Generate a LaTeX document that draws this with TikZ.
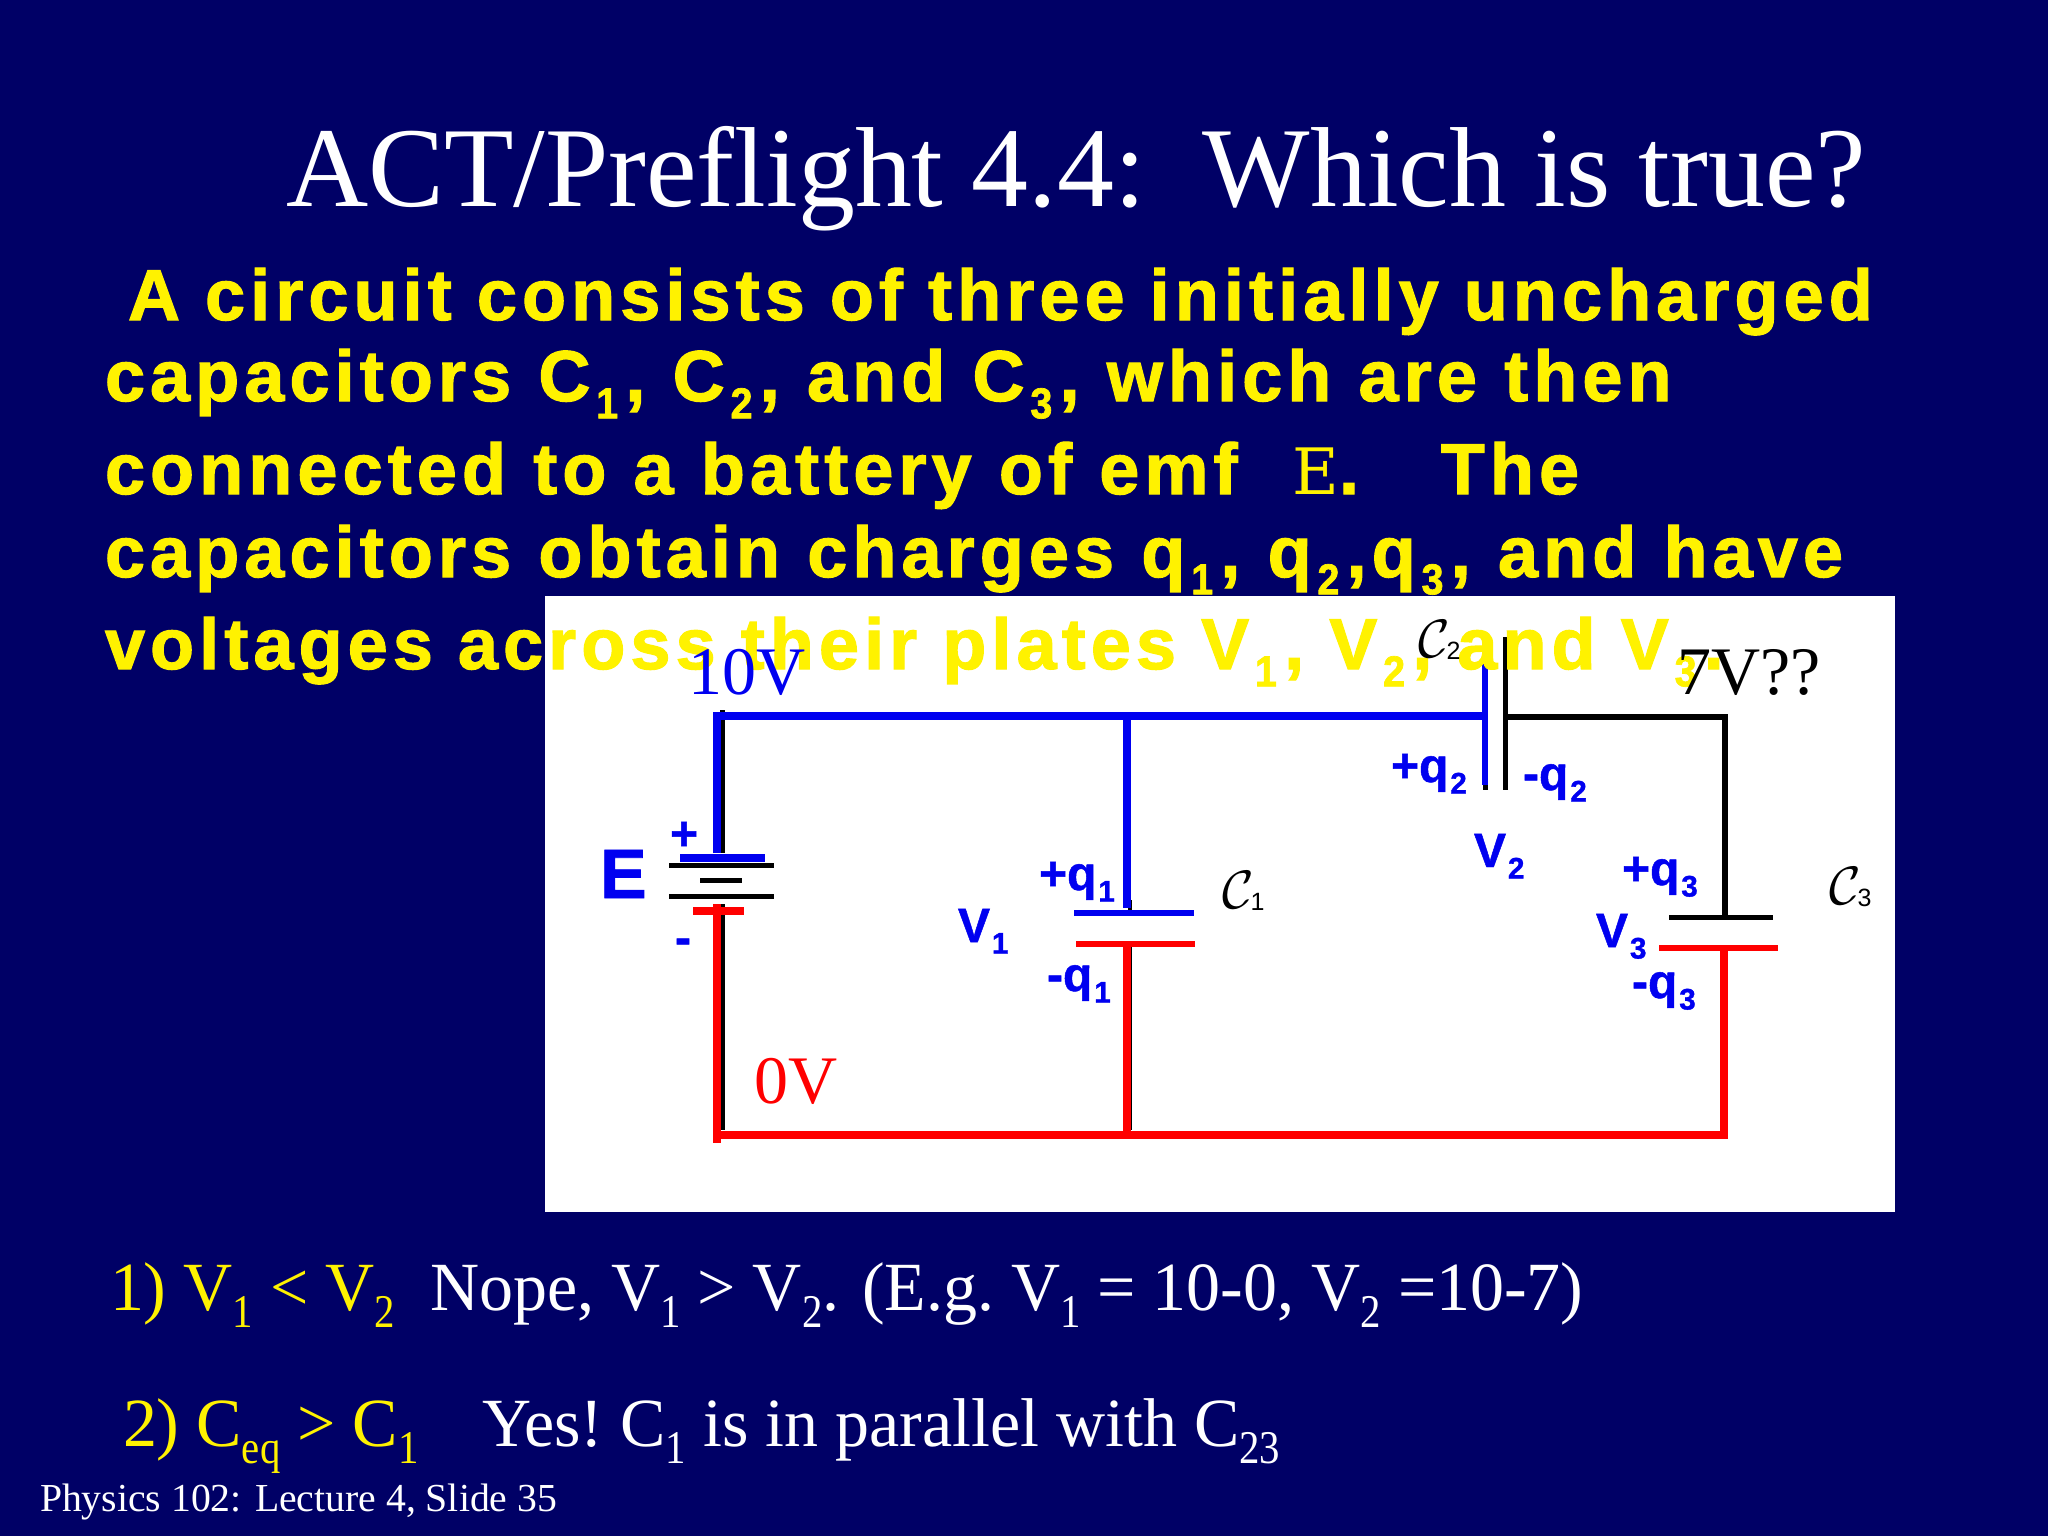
\documentclass[tikz,border=0pt]{standalone}
\usepackage{fontspec}
\usepackage{graphicx}
\setmainfont{Liberation Serif}
\newfontfamily\armfont[LetterSpace=7.1,BoldFeatures={FakeBold=1.6}]{Liberation Sans}
\newfontfamily\lblfont[BoldFeatures={FakeBold=1}]{Liberation Sans}
\newfontfamily\ansfont[FakeStretch=0.985]{Liberation Serif}
\newfontfamily\slabfont{DejaVu Serif}
\definecolor{slidebg}{HTML}{000066}
\definecolor{wireblue}{HTML}{0000F0}
\newcommand{\widesp}{\spaceskip=27.3pt\relax}
\newcommand{\dn}[1]{\kern0.04em\raisebox{-0.24em}{\scalebox{0.62}{#1}}}
\newcommand{\pdn}[1]{\kern0.08em\raisebox{-0.24em}{\scalebox{0.55}[0.6]{#1}}\kern0.1em}
\newcommand{\sdn}[1]{\raisebox{-0.25em}{\scalebox{0.6}[0.68]{#1}}}
\newcommand{\capname}[1]{\scalebox{5.4}{$\mathcal{C}$}\kern-3pt\raisebox{-0.2em}{\lblfont\fontsize{25}{25}\selectfont#1}}
\tikzset{
  every node/.style={inner sep=0pt,outer sep=0pt,anchor=base west},
  title/.style={text=white,font=\fontsize{113.8}{114}\selectfont},
  para/.style={text=yellow,font=\armfont\bfseries\fontsize{72}{72}\selectfont},
  parawide/.style={text=yellow,font=\armfont\bfseries\fontsize{72}{72}\selectfont\widesp},
  answer/.style={font=\ansfont\fontsize{69}{69}\selectfont},
  volt/.style={font=\fontsize{68}{68}\selectfont},
  lbl/.style={text=wireblue,font=\lblfont\bfseries\fontsize{48}{48}\selectfont},
  bluewire/.style={draw=wireblue,line width=8pt},
  redwire/.style={draw=red,line width=8pt},
  blackwire/.style={draw=black,line width=6pt},
  plate/.style={line width=6pt},
  thinplate/.style={draw=black,line width=5pt}
}
\begin{document}
\begin{tikzpicture}[x=1pt,y=-1pt]
\useasboundingbox (0,0) rectangle (2048,1536);
\fill[slidebg] (0,0) rectangle (2048,1536);
\fill[white] (545,596) rectangle (1895,1212);

% corners of the circuit
\coordinate (topleft) at (717,716);
\coordinate (topmid) at (1127,716);
\coordinate (topcap) at (1485,716);
\coordinate (topcapb) at (1505,717);
\coordinate (topright) at (1725,717);
\coordinate (botleft) at (717,1135);
\coordinate (botmid) at (1127,1135);
\coordinate (botright) at (1724,1135);
\coordinate (batplus) at (717,853);
\coordinate (batminus) at (717,904);
\coordinate (capatop) at (1127,908);
\coordinate (capabot) at (1127,944);
\coordinate (capctop) at (1725,917);
\coordinate (capcbot) at (1724,948);

% black lines under the coloured ones
\draw[draw=black,line width=5pt] (722,710) -- (722,853);
\draw[draw=black,line width=5pt] (722,904) -- (722,1130);
\draw[draw=black,line width=4pt] (1130,900) -- (1130,913);
\draw[draw=black,line width=4pt] (1130,944) -- (1130,1130);

% battery
\draw[thinplate] (669,865) -- (774,865);
\draw[thinplate] (700,880) -- (742,880);
\draw[thinplate] (669,896) -- (774,896);
\draw[draw=wireblue,line width=8pt] (680,858) -- (765,858);
\draw[draw=red,line width=8pt] (693,911) -- (744,911);

% wires
\draw[bluewire] (batplus) -- (topleft) -- (topmid) -- (topcap);
\draw[bluewire] (topmid) -- (capatop);
\draw[redwire] (batminus) -- (717,1143);
\draw[redwire] (botleft) -- (botmid) -- (botright) -- (capcbot);
\draw[redwire] (capabot) -- (botmid);
\draw[blackwire] (topcapb) -- (topright) -- (capctop);

% capacitors
\draw[plate,draw=wireblue] (1074,913) -- (1194,913);
\draw[plate,draw=red] (1076,944) -- (1195,944);
\draw[thinplate] (1485,770) -- (1485,790);
\draw[plate,draw=wireblue] (1485,639) -- (1485,785);
\draw[thinplate] (1505,637) -- (1505,790);
\draw[thinplate] (1669,917) -- (1773,917);
\draw[plate,draw=red] (1659,948) -- (1778,948);

% slide text
\node[title] (head) at (286,206) {ACT/Preflight 4.4:\ \ Which is true?};
\node[para] (linea) at (128,320) {A circuit consists of three initially uncharged};
\node[parawide] (lineb) at (105,401) {capacitors C\pdn{1}, C\pdn{2}, and C\pdn{3}, which are then};
\node[parawide] (linec) at (105,494) {connected to a battery of emf\ \ {\slabfont\mdseries\fontsize{64}{64}\selectfont E}.\ \ \ The};
\node[parawide] (lined) at (105,577) {capacitors obtain charges q\pdn{1}, q\pdn{2},q\pdn{3}, and have};
\node[para] (linee) at (105,669) {voltages across their plates V\pdn{1}, V\pdn{2}, and V\pdn{3}.};
\node[answer,text=yellow] (ansa) at (110,1310) {1) V\sdn{1} < V\sdn{2}};
\node[answer,text=white] (ansb) at (430,1310) {Nope, V\sdn{1} > V\sdn{2}. (E.g.\ V\sdn{1} = 10-0, V\sdn{2} =10-7)};
\node[answer,text=yellow] (ansc) at (123,1446) {2) C\sdn{eq} > C\sdn{1}};
\node[answer,text=white] (ansd) at (482,1446) {Yes!\ C\sdn{1} is in parallel with C\sdn{23}};
\node[text=white,font=\fontsize{39.7}{40}\selectfont] (foot) at (40,1511) {Physics 102: Lecture 4, Slide 35};

% labels in the circuit
\node[volt,text=wireblue] (tenv) at (688,694) {10V};
\node[volt,text=red] (zerov) at (754,1103) {0V};
\node[volt,text=black] (sevenv) at (1677,694) {7V??};
\node[lbl,font=\lblfont\bfseries\fontsize{70}{70}\selectfont] (emf) at (600,898) {E};
\node[lbl] (plus) at (670,850) {+};
\node[lbl] (minus) at (675,954) {-};
\node[lbl] (qa) at (1039,890) {+q\dn{1}};
\node[lbl] (qma) at (1047,991) {-q\dn{1}};
\node[lbl] (qb) at (1391,782) {+q\dn{2}};
\node[lbl] (qmb) at (1523,790) {-q\dn{2}};
\node[lbl] (qc) at (1622,885) {+q\dn{3}};
\node[lbl] (qmc) at (1632,998) {-q\dn{3}};
\node[lbl] (va) at (958,942) {V\dn{1}};
\node[lbl] (vb) at (1474,867) {V\dn{2}};
\node[lbl] (vc) at (1596,947) {V\dn{3}};
\node (capa) at (1222,908) {\capname{1}};
\node (capb) at (1418,657) {\capname{2}};
\node (capc) at (1829,904) {\capname{3}};
\end{tikzpicture}
\end{document}
